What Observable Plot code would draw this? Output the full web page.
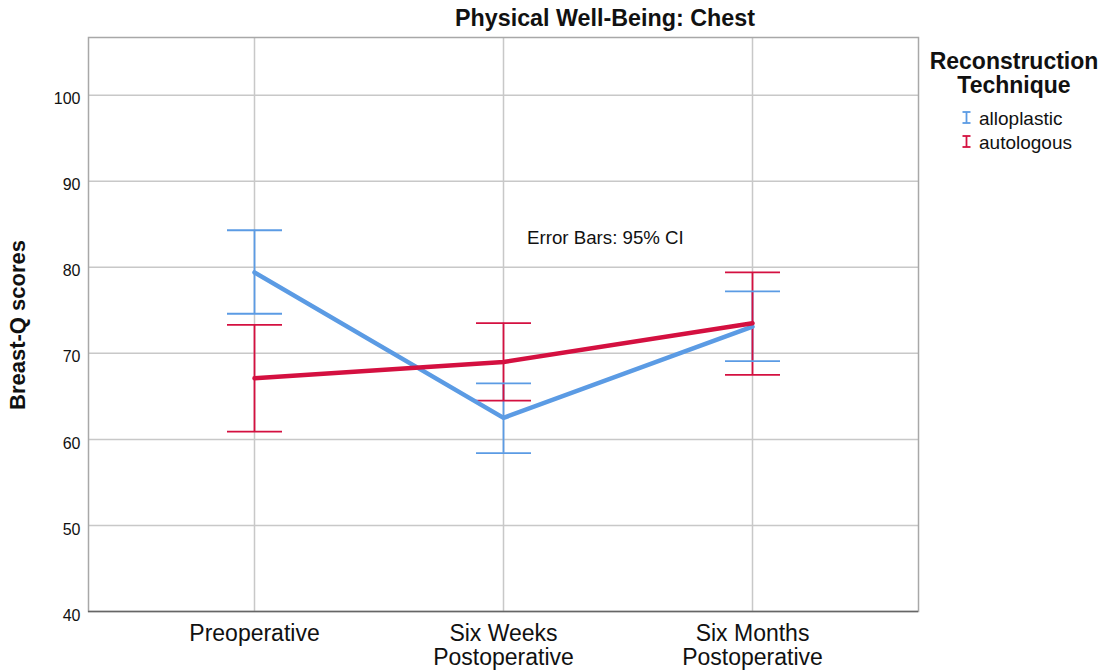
<!DOCTYPE html>
<html><head><meta charset="utf-8">
<script src="https://cdn.jsdelivr.net/npm/d3@7"></script>
<script src="https://cdn.jsdelivr.net/npm/@observablehq/plot@0.6"></script>
<style>
body{margin:0;background:#fff;font-family:"Liberation Sans",Arial,Helvetica,sans-serif;}
#wrap{position:relative;width:1108px;height:672px;overflow:hidden;}
.abs{position:absolute;white-space:nowrap;color:#111;}
#wrap svg{position:absolute;left:0;top:0;}
</style></head><body><div id="wrap"></div>
<script>
const timepoints = ["Preoperative", "Six Weeks\nPostoperative", "Six Months\nPostoperative"];
const techniques = ["alloplastic", "autologous"];
const techColors = ["#5b9be4", "#d41040"];
const alloMean = [79.4, 62.5, 73.1];
const alloLow  = [74.6, 58.4, 69.1];
const alloHigh = [84.3, 66.5, 77.2];
const autoMean = [67.1, 69.0, 73.5];
const autoLow  = [60.9, 64.5, 67.5];
const autoHigh = [73.3, 73.5, 79.4];
const yTicks = [40, 50, 60, 70, 80, 90, 100];
const yDomain = [40, 106.7];

const rows = [];
timepoints.forEach((t, i) => rows.push({time: t, tech: techniques[0], mean: alloMean[i], low: alloLow[i], high: alloHigh[i]}));
timepoints.forEach((t, i) => rows.push({time: t, tech: techniques[1], mean: autoMean[i], low: autoLow[i], high: autoHigh[i]}));

// horizontal cap symbol for error bars (half-width = r)
const capSymbol = {draw(context, size) { const h = Math.sqrt(size / Math.PI); context.moveTo(-h, 0); context.lineTo(h, 0); }};

const grid = "#c8c8c8";
const chart = Plot.plot({
  width: 1108, height: 672,
  marginLeft: 88, marginRight: 190, marginTop: 37, marginBottom: 61,
  style: {fontFamily: '"Liberation Sans", Arial, sans-serif', color: "#666", background: "transparent"},
  x: {type: "point", domain: timepoints, padding: 0.665, axis: null},
  y: {domain: yDomain, ticks: [], tickSize: 0, line: true, label: null},
  color: {domain: techniques, range: techColors},
  marks: [
    Plot.ruleY(yTicks.filter(d => d > yDomain[0]), {stroke: grid, strokeWidth: 1.5}),
    Plot.ruleX(timepoints, {x: d => d, stroke: grid, strokeWidth: 1.5}),
    Plot.frame({stroke: "#a8a8a8", strokeWidth: 1.5}),
    Plot.ruleY([yDomain[0]], {stroke: "#666", strokeWidth: 1.5}),
    Plot.ruleX(rows, {x: "time", y1: "low", y2: "high", stroke: "tech", strokeWidth: 1.8}),
    Plot.dot(rows, {x: "time", y: "low", stroke: "tech", fill: "none", symbol: capSymbol, r: 27.5, strokeWidth: 1.8}),
    Plot.dot(rows, {x: "time", y: "high", stroke: "tech", fill: "none", symbol: capSymbol, r: 27.5, strokeWidth: 1.8}),
    Plot.line(rows, {x: "time", y: "mean", stroke: "tech", z: "tech", strokeWidth: 4.5}),
    Plot.text(yTicks, {y: d => d, text: d => String(d), frameAnchor: "left", textAnchor: "end", dx: -8, dy: 4, fontSize: 16, fill: "#111"}),
    Plot.text(timepoints, {x: d => d, text: d => d.split("\n")[0], frameAnchor: "bottom", dy: 29.5, fontSize: 23, fill: "#111"}),
    Plot.text(timepoints.filter(d => d.includes("\n")), {x: d => d, text: d => d.split("\n")[1], frameAnchor: "bottom", dy: 53.5, fontSize: 23, fill: "#111"})
  ]
});
const wrap = document.getElementById("wrap");
wrap.appendChild(chart);

function addDiv(html, css) {
  const d = document.createElement("div");
  d.className = "abs";
  d.innerHTML = html;
  Object.assign(d.style, css);
  wrap.appendChild(d);
  return d;
}
// title
addDiv("Physical Well-Being: Chest", {left: "455px", top: "7px", fontSize: "23.3px", lineHeight: "23px", fontWeight: "bold"});
// y label
addDiv("Breast-Q scores", {left: "-82px", top: "313px", width: "200px", height: "24px", lineHeight: "24px", textAlign: "center", fontSize: "22px", fontWeight: "bold", transform: "rotate(-90deg)"});
// annotation
addDiv("Error Bars: 95% CI", {left: "527px", top: "229px", fontSize: "18.7px", lineHeight: "18.5px"});
// legend
addDiv("Reconstruction<br>Technique", {left: "914px", top: "49px", width: "200px", textAlign: "center", fontSize: "23px", lineHeight: "24px", fontWeight: "bold"});
techniques.forEach((t, i) => {
  const c = techColors[i];
  const icon = `<svg width="9" height="13" style="vertical-align:middle;margin-right:8px;position:relative;top:-2px"><line x1="0.5" y1="1" x2="8.5" y2="1" stroke="${c}" stroke-width="1.8"/><line x1="4.5" y1="1" x2="4.5" y2="12" stroke="${c}" stroke-width="1.8"/><line x1="0.5" y1="12" x2="8.5" y2="12" stroke="${c}" stroke-width="1.8"/></svg>`;
  addDiv(icon + t, {left: "962px", top: (109 + 23.5 * i) + "px", fontSize: "19px", lineHeight: "19px"});
});
</script>
</body></html>
